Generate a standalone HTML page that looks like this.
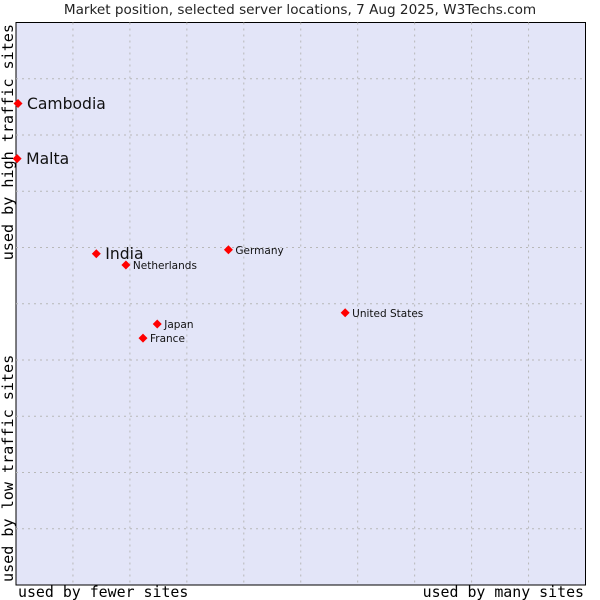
<!DOCTYPE html>
<html><head><meta charset="utf-8"><style>
body{margin:0;background:#fff;}
svg{display:block;font-family:"DejaVu Sans","Liberation Sans",sans-serif;}
</style></head><body>
<svg id="chart" width="600" height="600" viewBox="0 0 600 600">
<text x="300" y="14" text-anchor="middle" font-size="13.6" fill="#222">Market position, selected server locations, 7 Aug 2025, W3Techs.com</text>
<rect x="16" y="22.5" width="569.5" height="562.5" fill="#e3e5f8" stroke="#000" stroke-width="1"/>
<g id="grid"></g>
<g id="points"></g>
<text x="18" y="597" font-family="DejaVu Sans Mono,Liberation Mono,monospace" font-size="14.9" fill="#000">used by fewer sites</text>
<text x="584" y="597" text-anchor="end" font-family="DejaVu Sans Mono,Liberation Mono,monospace" font-size="14.9" fill="#000">used by many sites</text>
<text transform="translate(13,24) rotate(-90)" text-anchor="end" font-family="DejaVu Sans Mono,Liberation Mono,monospace" font-size="15.1" fill="#000">used by high traffic sites</text>
<text transform="translate(13,582) rotate(-90)" font-family="DejaVu Sans Mono,Liberation Mono,monospace" font-size="15.1" fill="#000">used by low traffic sites</text>
</svg>
<script>
const names=["Cambodia","Malta","India","Netherlands","Germany","United States","Japan","France"];
const xVals=[0.35,0.2,14.1,19.3,37.3,57.8,24.8,22.3];
const yVals=[85.6,75.8,58.9,56.9,59.6,48.4,46.4,43.9];
const bigLabel=[true,true,true,false,false,false,false,false];
const L=16,R=585.5,T=22.5,B=585;
const sx=v=>L+v/100*(R-L), sy=v=>B-v/100*(B-T);
const NS="http://www.w3.org/2000/svg";
const g=document.getElementById('grid');
for(let i=1;i<10;i++){
  const x=sx(i*10),y=sy(i*10);
  const v=document.createElementNS(NS,'line');
  
  
  v.setAttribute('x1',x);v.setAttribute('x2',x);v.setAttribute('y1',T);v.setAttribute('y2',B);
  v.setAttribute('stroke','#b8b8b8');v.setAttribute('stroke-dasharray','2,4');
  g.appendChild(v);
  const h=document.createElementNS(NS,'line');
  
  
  h.setAttribute('x1',L);h.setAttribute('x2',R);h.setAttribute('y1',y);h.setAttribute('y2',y);
  h.setAttribute('stroke','#b8b8b8');h.setAttribute('stroke-dasharray','2,4');
  g.appendChild(h);
}
const p=document.getElementById('points');
names.forEach((n,i)=>{
  const x=sx(xVals[i]),y=sy(yVals[i]);
  const m=document.createElementNS(NS,'path');
  
  
  m.setAttribute('d',`M${x-4.5},${y} L${x},${y-4.5} L${x+4.5},${y} L${x},${y+4.5}Z`);
  m.setAttribute('fill','#ff0000');
  p.appendChild(m);
  const t=document.createElementNS(NS,'text');
  
  
  t.setAttribute('x',x+(bigLabel[i]?9:7));
  t.setAttribute('y',y+(bigLabel[i]?5.5:4));
  t.setAttribute('font-size',bigLabel[i]?15.6:10.5);
  t.setAttribute('fill','#111');
  t.textContent=n;
  p.appendChild(t);
});
</script>
</body></html>
